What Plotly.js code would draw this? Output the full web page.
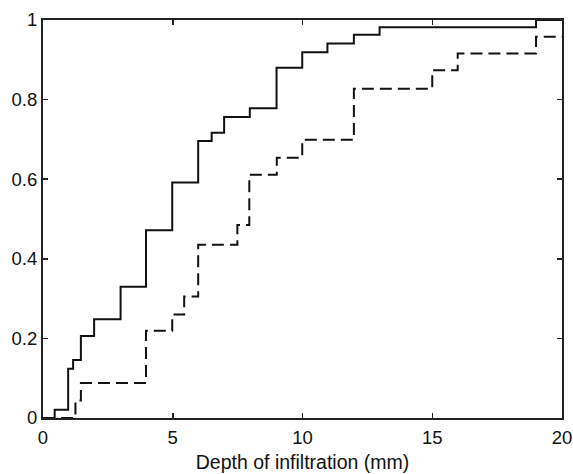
<!DOCTYPE html>
<html>
<head>
<meta charset="utf-8">
<script src="https://cdn.plot.ly/plotly-3.0.1.min.js"></script>
<style>
  html, body { margin: 0; padding: 0; background: #fff; }
  #chart { width: 573px; height: 474px; }
</style>
</head>
<body>
<div id="chart"></div>
<script>
// Solid series (empirical CDF steps)
const solidX = [0, 0.45, 0.97, 1.16, 1.46, 1.97, 2.99, 3.97, 4.98, 5.98, 6.5, 6.98, 7.97, 9.0, 9.99, 10.96, 11.98, 12.97, 19.0, 20];
const solidY = [0, 0.021, 0.124, 0.146, 0.206, 0.248, 0.33, 0.472, 0.592, 0.696, 0.717, 0.756, 0.778, 0.88, 0.919, 0.941, 0.963, 0.982, 1.0, 1.0];

// Dashed series
const dashX = [0, 1.25, 1.46, 3.97, 4.98, 5.44, 5.98, 7.49, 7.95, 9.01, 9.99, 11.98, 15.0, 15.98, 19.0, 20];
const dashY = [0, 0.044, 0.088, 0.219, 0.26, 0.305, 0.435, 0.485, 0.611, 0.654, 0.699, 0.827, 0.874, 0.916, 0.958, 0.958];

const xTicks = [0, 5, 10, 15, 20];
const xTickText = ['0', '5', '10', '15', '20'];
const yTicks = [0, 0.2, 0.4, 0.6, 0.8, 1];
const yTickText = ['0', '0.2', '0.4', '0.6', '0.8', '1'];

const xTitle = 'Depth of infiltration (mm)';

const font = 'Liberation Sans, Arial, sans-serif';

const traces = [
  {
    x: solidX, y: solidY, type: 'scatter', mode: 'lines',
    line: { shape: 'hv', color: '#111', width: 2 },
    hoverinfo: 'skip'
  },
  {
    x: dashX, y: dashY, type: 'scatter', mode: 'lines',
    line: { shape: 'hv', color: '#111', width: 2, dash: '12px,6px' },
    hoverinfo: 'skip'
  }
];

const axisCommon = {
  showgrid: false, zeroline: false,
  showline: true, linecolor: '#222', linewidth: 2, mirror: 'ticks',
  ticks: 'inside', ticklen: 5, tickwidth: 1.5, tickcolor: '#222',
  tickfont: { family: font, size: 18.5, color: '#111' }
};

const layout = {
  width: 573, height: 474,
  margin: { l: 43, r: 11, t: 20, b: 56 },
  paper_bgcolor: '#fff', plot_bgcolor: '#fff',
  showlegend: false,
  xaxis: Object.assign({}, axisCommon, {
    range: [0, 20], tickvals: xTicks, ticktext: xTickText,
    ticklabelstandoff: 2,
    title: { text: xTitle, font: { family: font, size: 19.5, color: '#111' }, standoff: 8 }
  }),
  yaxis: Object.assign({}, axisCommon, {
    range: [0, 1], tickvals: yTicks, ticktext: yTickText,
    ticklabelstandoff: 0
  })
};

Plotly.newPlot('chart', traces, layout, { staticPlot: true, displayModeBar: false });
</script>
</body>
</html>
